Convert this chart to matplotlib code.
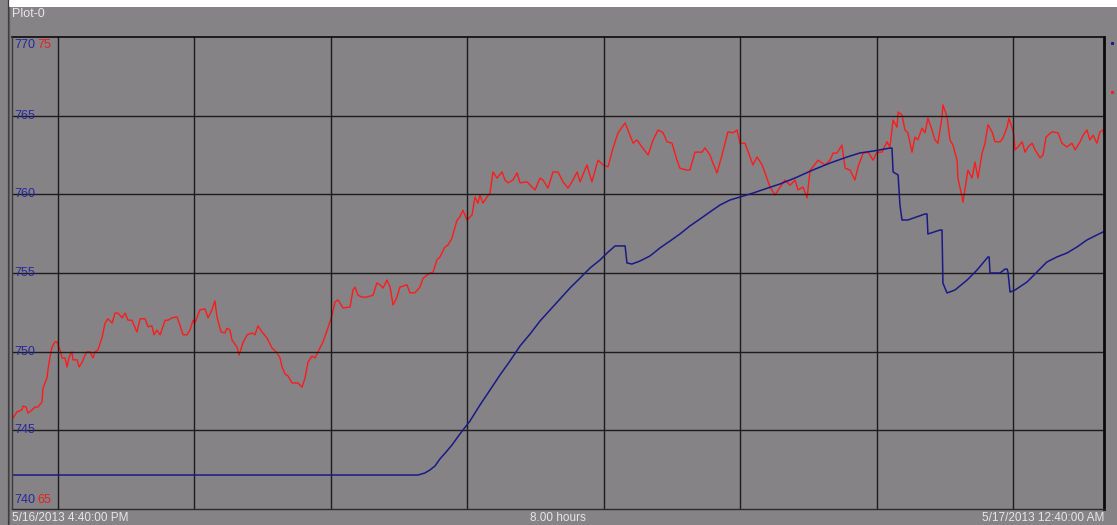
import matplotlib
matplotlib.use("Agg")
import matplotlib.pyplot as plt
import matplotlib.transforms as mtransforms
from matplotlib.lines import Line2D
from matplotlib.patches import Rectangle

# ---- data: minutes after 5/16/2013 4:40:00 PM ----
red_t = [0, 2.2, 4.4, 4.8, 6.2, 7.0, 8.8, 10.1, 11.4, 13.2, 13.6, 15.4, 15.8, 16.7, 17.6,
         18.9, 19.8, 21.1, 22.0, 23.3, 24.2, 25.1, 26.4, 26.8, 28.6, 29.5, 30.8, 32.1, 33.0,
         34.3, 35.6, 36.5, 37.8, 39.6, 40.9, 42.2, 44.0, 45.3, 46.6, 48.4, 49.7, 51.0, 52.7,
         54.9, 56.3, 58.5, 59.8, 61.5, 62.4, 63.7, 65.1, 67.3, 68.6, 70.3, 72.5, 73.8, 75.2,
         76.9, 78.2, 79.6, 80.4, 82.6, 84.8, 86.2, 87.9, 89.2, 90.1, 91.9, 93.6, 94.5, 95.8,
         96.7, 98.9, 99.8, 101.5, 103.3, 105.5, 106.8, 108.1, 109.9, 112.1, 114.3, 116.5,
         117.8, 118.7, 120.0, 121.3, 123.1, 125.7, 127.5, 128.8, 130.1, 131.9, 133.2, 134.5,
         136.7, 138.9, 140.7, 142.0, 143.3, 145.5, 148.6, 149.9, 150.8, 152.1, 153.8, 156.0,
         158.7, 160.4, 161.8, 163.1, 164.8, 166.2, 167.5, 169.2, 170.5, 173.6, 174.9, 177.1,
         179.3, 180.7, 183.7, 185.1, 186.8, 188.1, 190.3, 191.6, 193.4, 195.6, 196.9, 198.2,
         200.0, 202.2, 203.5, 204.8, 205.7, 207.0, 208.8, 210.1, 211.4, 213.2, 215.4, 216.7,
         218.0, 220.2, 222.0, 223.3, 226.4, 228.6, 229.9, 232.1, 233.4, 235.6, 237.8, 240.0,
         242.2, 244.4, 246.6, 248.4, 249.7, 252.7, 254.9, 257.6, 259.8, 262.0, 264.2, 266.4,
         269.5, 271.6, 273.0, 274.7, 276.9, 279.6, 281.8, 284.0, 286.2, 287.9, 290.1, 292.3,
         293.6, 296.7, 298.0, 300.2, 303.3, 304.6, 306.8, 308.1, 309.9, 312.1, 314.7, 316.9,
         318.7, 320.0, 322.2, 324.4, 325.7, 327.5, 329.7, 331.0, 333.2, 335.4, 337.6, 339.8,
         342.0, 344.2, 345.5, 347.7, 349.5, 350.8, 352.1, 354.3, 357.4, 359.6, 360.9, 362.6,
         364.8, 366.2, 368.4, 370.5, 371.9, 374.1, 376.3, 378.5, 380.2, 382.4, 384.6, 385.9,
         387.3, 389.0, 389.5, 391.2, 392.5, 393.8, 395.6, 396.9, 398.2, 400.0, 401.3, 402.6,
         404.4, 405.7, 407.0, 408.8, 409.2, 411.0, 412.3, 413.6, 415.4, 415.8, 417.6, 418.0,
         419.3, 420.2, 422.0, 423.3, 424.6, 426.4, 427.7, 429.0, 430.8, 432.1, 434.3, 435.6,
         437.4, 438.2, 439.6, 440.4, 440.9, 442.2, 444.0, 445.3, 446.6, 448.4, 449.7, 451.9,
         453.2, 454.5, 457.1, 459.8, 461.5, 463.7, 465.9, 467.3, 469.5, 470.8, 472.5, 473.8,
         475.2, 476.9, 478.2, 479.6, 480.0]
red_v = [66.89, 67.06, 67.10, 67.18, 67.16, 67.03, 67.10, 67.16, 67.16, 67.27, 67.56, 67.78,
         67.95, 68.22, 68.43, 68.54, 68.54, 68.37, 68.20, 68.20, 68.01, 68.22, 68.33, 68.16,
         68.16, 68.01, 68.11, 68.26, 68.33, 68.33, 68.20, 68.33, 68.37, 68.64, 68.94, 69.03,
         68.94, 69.15, 69.15, 69.05, 69.15, 69.00, 69.00, 68.75, 69.03, 69.03, 68.86, 68.88,
         68.69, 68.79, 68.69, 69.00, 69.00, 69.05, 69.07, 68.90, 68.69, 68.69, 68.79, 69.00,
         68.94, 69.22, 69.24, 69.05, 69.22, 69.41, 69.07, 68.75, 68.73, 68.83, 68.79, 68.58,
         68.43, 68.26, 68.52, 68.69, 68.73, 68.69, 68.88, 68.75, 68.62, 68.41, 68.31, 68.20,
         68.01, 67.86, 67.82, 67.67, 67.67, 67.58, 67.78, 68.11, 68.24, 68.20, 68.33, 68.54,
         68.84, 69.11, 69.39, 69.43, 69.26, 69.28, 69.64, 69.70, 69.53, 69.49, 69.49, 69.53,
         69.79, 69.75, 69.68, 69.85, 69.70, 69.32, 69.49, 69.70, 69.75, 69.58, 69.58, 69.70,
         69.89, 70.00, 70.02, 70.28, 70.34, 70.55, 70.59, 70.74, 71.12, 71.19, 71.33, 71.12,
         71.23, 71.61, 71.48, 71.65, 71.48, 71.61, 71.69, 72.14, 72.01, 72.14, 71.97, 71.91,
         71.97, 72.12, 71.91, 71.93, 71.82, 71.76, 72.01, 71.97, 71.80, 72.14, 72.14, 71.93,
         71.80, 71.97, 72.14, 71.93, 72.29, 71.93, 72.39, 72.29, 72.25, 72.65, 72.97, 73.18,
         72.92, 72.75, 72.82, 72.67, 72.50, 72.82, 73.03, 72.97, 72.78, 72.75, 72.39, 72.22,
         72.18, 72.18, 72.56, 72.56, 72.65, 72.50, 72.33, 72.12, 72.50, 72.99, 72.97, 73.03,
         72.75, 72.75, 72.46, 72.29, 72.46, 72.29, 72.12, 71.82, 71.65, 71.82, 71.97, 71.86,
         71.97, 71.76, 71.82, 71.59, 72.18, 72.25, 72.39, 72.29, 72.39, 72.54, 72.54, 72.71,
         72.22, 72.18, 71.97, 72.25, 72.54, 72.56, 72.39, 72.56, 72.56, 72.78, 72.67, 73.24,
         73.09, 73.41, 73.35, 73.03, 72.97, 72.56, 72.88, 72.82, 73.07, 72.97, 73.28, 73.03,
         72.82, 72.75, 73.31, 73.56, 73.31, 72.82, 72.71, 72.39, 72.01, 71.61, 71.50, 71.91,
         72.18, 72.01, 72.35, 72.01, 72.54, 72.75, 73.14, 72.99, 72.78, 72.78, 72.86, 73.09,
         73.28, 73.07, 72.92, 72.61, 72.67, 72.78, 72.56, 72.67, 72.75, 72.61, 72.44, 72.50,
         72.88, 72.99, 72.97, 72.75, 72.67, 72.75, 72.61, 72.78, 72.92, 73.03, 72.82, 72.92,
         72.75, 72.99, 73.03, 72.88]

blue_t = [0, 178.5, 181.5, 183.7, 185.9, 188.1, 190.8, 193.4, 196.9, 201.3, 205.7, 210.1,
          214.5, 218.9, 223.3, 227.7, 232.1, 236.5, 240.9, 245.3, 249.7, 254.1, 258.5, 262.0,
          265.1, 269.5, 270.3, 272.5, 276.0, 280.4, 284.8, 289.2, 293.6, 298.0, 302.4, 306.8,
          311.2, 315.6, 320.0, 325.7, 331.0, 337.6, 344.2, 352.1, 359.6, 367.0, 372.7, 378.5,
          385.9, 386.8, 387.3, 389.5, 390.3, 391.2, 393.8, 401.3, 402.2, 402.6, 407.9, 408.8,
          409.2, 411.0, 414.5, 419.8, 424.2, 429.0, 429.5, 429.9, 434.3, 436.5, 437.4, 437.8,
          438.7, 440.9, 446.2, 450.5, 454.9, 459.3, 463.7, 468.1, 472.5, 476.9, 479.6]
blue_v = [742.16, 742.16, 742.29, 742.48, 742.73, 743.18, 743.62, 744.07, 744.77, 745.59,
          746.61, 747.56, 748.52, 749.41, 750.36, 751.12, 751.95, 752.65, 753.35, 754.05,
          754.68, 755.32, 755.83, 756.33, 756.72, 756.72, 755.64, 755.57, 755.76, 756.08,
          756.59, 757.03, 757.48, 757.99, 758.43, 758.88, 759.32, 759.64, 759.83, 760.08,
          760.34, 760.66, 761.04, 761.55, 761.99, 762.37, 762.63, 762.75, 762.94, 762.94,
          761.42, 761.23, 759.32, 758.37, 758.37, 758.75, 758.75, 757.48, 757.73, 757.73,
          754.36, 753.73, 753.92, 754.55, 755.19, 756.02, 756.02, 755.00, 755.00, 755.25,
          755.25, 755.06, 753.79, 753.92, 754.43, 755.06, 755.70, 756.02, 756.27, 756.65,
          757.10, 757.42, 757.61]

blue_ticks = [740, 745, 750, 755, 760, 765, 770]
red_ticks = [65, 75]
hour_lines = [20, 80, 140, 200, 260, 320, 380, 440]
x_tick_pos = [0, 240, 480]
x_tick_labels = ["5/16/2013 4:40:00 PM", "8.00 hours", "5/17/2013 12:40:00 AM"]

BG = "#858386"
GRID = "#1c1c1c"
BLUE = "#1a1a86"
RED = "#ff1a1a"
TXT = "#e6e6e6"
FS = 8.5

plt.rcParams["font.family"] = ["Liberation Sans", "DejaVu Sans"]

W, H = 1117, 525
fig = plt.figure(figsize=(W / 100, H / 100), dpi=100, facecolor=BG)

# frame decorations of the panel
fig.add_artist(Rectangle((8 / W, 1 - 7 / H), 1 - 8 / W, 7 / H, transform=fig.transFigure,
                         facecolor="white", edgecolor="none"))
fig.add_artist(Line2D([7.5 / W] * 2, [0, 1], transform=fig.transFigure, color="#3a3a3a", lw=0.9))
fig.add_artist(Line2D([9.5 / W] * 2, [0, 1 - 7 / H], transform=fig.transFigure, color="#5a5a5a", lw=0.9))
fig.text(12 / W, 1 - 14 / H, "Plot-0", color=TXT, fontsize=FS + 0.5, va="center", ha="left")

ax2 = fig.add_axes([12 / W, 16 / H, (1104 - 12) / W, (509 - 37) / H])  # red scale
ax2.set_facecolor(BG)
ax = ax2.twinx()  # blue scale, drawn on top
ax.set_zorder(ax2.get_zorder() + 1)
ax.patch.set_visible(False)

ax2.set_xlim(0, 480)
ax2.set_ylim(65, 75)
ax.set_ylim(740, 770)

for a in (ax, ax2):
    a.tick_params(left=False, right=False, labelleft=False, labelright=False)
    for s in a.spines.values():
        s.set_visible(False)

# grid
for h in hour_lines:
    ax.axvline(h, color=GRID, lw=1.0, zorder=1)
for v in blue_ticks[1:-1]:
    ax.axhline(v, color=GRID, lw=1.0, zorder=1)

# border
ax.plot([0, 480], [770, 770], color="#0a0a0a", lw=1.2, zorder=3, clip_on=False)
ax.plot([480, 480], [740, 770], color="#0a0a0a", lw=2.0, zorder=3, clip_on=False)
ax.plot([0, 480], [740, 740], color="#2a2a2a", lw=1.0, zorder=3, clip_on=False)
ax.plot([0, 0], [740, 770], color="#3a3a3a", lw=1.0, zorder=3, clip_on=False)

# series
ax2.plot(red_t, red_v, color=RED, lw=1.0, zorder=2)
ax.plot(blue_t, blue_v, color=BLUE, lw=1.1, zorder=2)

# scale labels inside the plot
tr = mtransforms.blended_transform_factory(ax.transAxes, ax.transData)
off = 2 / 1092
for v in blue_ticks:
    if v == 770:
        va, y = "top", v - 0.15
    elif v == 740:
        va, y = "bottom", v + 0.2
    else:
        va, y = "center", v
    ax.text(off, y, str(v), transform=tr, color="#2626a0", fontsize=FS + 0.5, va=va, ha="left", zorder=4)
ax.text(25 / 1092, 769.85, str(red_ticks[1]), transform=tr, color="#e82020", fontsize=FS + 0.5,
        va="top", ha="left", zorder=4)
ax.text(25 / 1092, 740.2, str(red_ticks[0]), transform=tr, color="#e82020", fontsize=FS + 0.5,
        va="bottom", ha="left", zorder=4)

# x axis labels
ax2.set_xticks(x_tick_pos)
ax2.set_xticklabels(x_tick_labels, color=TXT, fontsize=FS)
ax2.tick_params(axis="x", length=0, pad=2)
for lab, ha in zip(ax2.get_xticklabels(), ["left", "center", "right"]):
    lab.set_ha(ha)

# small end markers at the right edge
fig.add_artist(Line2D([1112 / W], [1 - 43 / H], transform=fig.transFigure, marker="s",
                      ms=1.2, color=BLUE, lw=0))
fig.add_artist(Line2D([1112 / W], [1 - 92 / H], transform=fig.transFigure, marker="s",
                      ms=1.2, color=RED, lw=0))

fig.savefig("out.png", dpi=100, facecolor=BG)
